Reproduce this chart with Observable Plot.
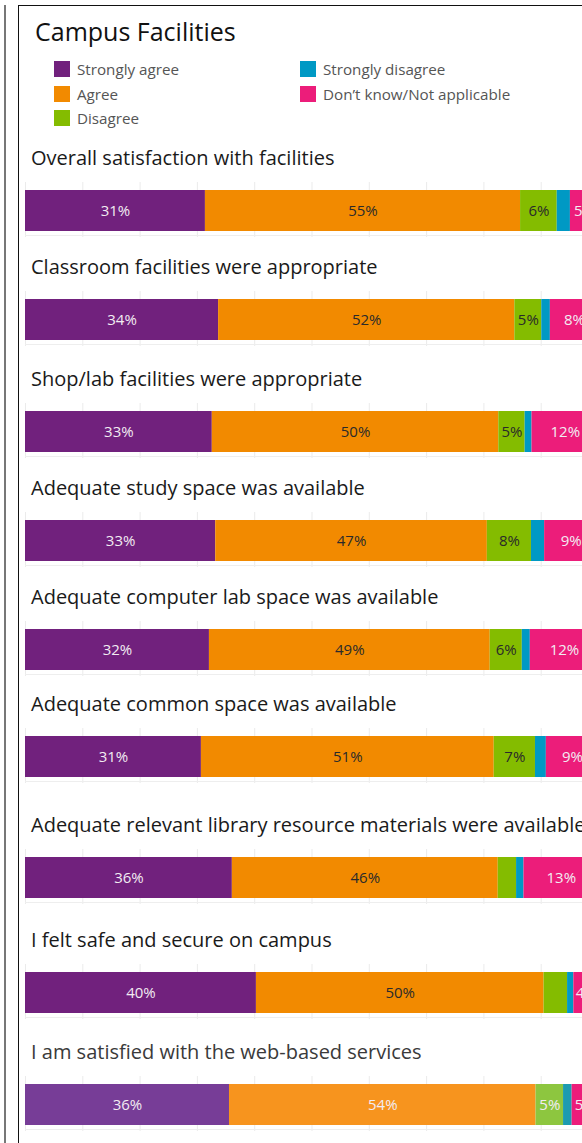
<!DOCTYPE html>
<html><head><meta charset="utf-8">
<script src="https://cdn.jsdelivr.net/npm/d3@7"></script>
<script src="https://cdn.jsdelivr.net/npm/@observablehq/plot@0.6"></script>
<style>
html,body{margin:0;padding:0;background:#fff;width:582px;height:1143px;overflow:hidden;}
body{position:relative;font-family:"Open Sans","Noto Sans",sans-serif;}
#outer{position:absolute;left:4px;top:5px;height:1200px;border-left:2px solid #777;}
#panel{position:absolute;left:18px;top:5px;width:700px;height:1200px;border-top:1.5px solid #111;border-left:1.5px solid #111;}
#title{position:absolute;left:35px;top:15px;font-size:25px;line-height:32px;color:#111;white-space:nowrap;}
#legend{position:absolute;left:54px;top:57px;display:grid;grid-template-rows:repeat(3,24.5px);grid-auto-flow:column;grid-template-columns:246px 260px;}
.item{display:flex;align-items:center;font-size:15.2px;color:#555;white-space:nowrap;}
.sw{width:16px;height:16px;margin-right:7px;flex:none;}
.row{position:absolute;left:0;width:600px;}
.rtitle{margin-left:31px;height:24px;line-height:24px;font-size:20px;color:#1a1a1a;margin-bottom:12px;white-space:nowrap;}
.plotwrap{position:relative;}
.plotwrap svg{display:block;}
.baseline{position:absolute;left:25px;right:0;bottom:1px;height:1px;background:#eeeeee;}
</style></head>
<body>
<div id="outer"></div>
<div id="panel"></div>
<div id="title">Campus Facilities</div>
<div id="legend"></div>
<div id="rows"></div>
<script>
const categories = ["Strongly agree", "Agree", "Disagree", "Strongly disagree", "Don’t know/Not applicable"];
const questions = [
  "Overall satisfaction with facilities",
  "Classroom facilities were appropriate",
  "Shop/lab facilities were appropriate",
  "Adequate study space was available",
  "Adequate computer lab space was available",
  "Adequate common space was available",
  "Adequate relevant library resource materials were available",
  "I felt safe and secure on campus",
  "I am satisfied with the web-based services"
];
const stronglyAgree    = [31.4, 33.7, 32.6, 33.2, 32.1, 30.7, 36.1, 40.3, 35.6];
const agree            = [55.0, 51.7, 50.0, 47.4, 49.0, 51.1, 46.4, 50.2, 53.5];
const disagree         = [6.4, 4.7, 4.6, 7.7, 5.6, 7.2, 3.2, 4.1, 4.8];
const stronglyDisagree = [2.3, 1.5, 1.2, 2.3, 1.4, 1.9, 1.3, 1.1, 1.5];
const dontKnow         = [4.9, 8.4, 11.6, 9.3, 11.9, 9.1, 13.0, 4.3, 4.6];
const gridTicks = [0, 10, 20, 30, 40, 50, 60, 70, 80, 90, 100];

const palette = ["#71217d", "#f28a00", "#84bc00", "#0099c4", "#ec1d7a"];
const highlightPalette = ["#773d97", "#f7941e", "#8dc63f", "#1d9bb0", "#ec1d7a"];
const highlightRow = 8;
const rowTops = [146, 255, 367, 476, 585, 692, 813, 928, 1040];

const series = [stronglyAgree, agree, disagree, stronglyDisagree, dontKnow];

// legend
const legend = document.getElementById("legend");
categories.forEach((c, j) => {
  const it = document.createElement("div");
  it.className = "item";
  it.innerHTML = `<div class="sw" style="background:${palette[j]}"></div><span>${c}</span>`;
  legend.appendChild(it);
});

const rowsEl = document.getElementById("rows");
questions.forEach((q, i) => {
  const hl = i === highlightRow;
  const data = categories.map((c, j) => ({q, cat: c, value: series[j][i]}));
  const show = d => Math.round(d.value) >= 5 || d.cat === categories[4];
  const lightCats = hl ? categories : [categories[0], categories[3], categories[4]];
  const lbl = d => Math.round(d.value) + "%";
  const chart = Plot.plot({
    width: 600,
    height: 55,
    marginLeft: 25,
    marginRight: 2,
    marginTop: 0,
    marginBottom: 0,
    style: {fontFamily: "'Open Sans', 'Noto Sans', sans-serif", background: "transparent"},
    x: {domain: [0, 100], axis: null},
    y: {domain: [q], axis: null, padding: 0},
    color: {domain: categories, range: hl ? highlightPalette : palette},
    marks: [
      Plot.ruleX(gridTicks, {stroke: "#ebebeb", strokeWidth: 1}),
      Plot.barX(data, Plot.stackX({x: "value", y: "q", fill: "cat", insetTop: 8, insetBottom: 6})),
      Plot.text(data, Plot.stackX({x: "value", y: "q", dy: 1,
        text: d => show(d) && lightCats.includes(d.cat) ? lbl(d) : "",
        fill: "#f2ecf2", fontSize: 15})),
      Plot.text(data, Plot.stackX({x: "value", y: "q", dy: 1,
        text: d => show(d) && !lightCats.includes(d.cat) ? lbl(d) : "",
        fill: "#2a2a2a", fontSize: 15}))
    ]
  });
  const row = document.createElement("div");
  row.className = "row";
  row.style.top = rowTops[i] + "px";
  const t = document.createElement("div");
  t.className = "rtitle";
  t.textContent = q;
  if (hl) t.style.color = "#3a3a3a";
  row.appendChild(t);
  const w = document.createElement("div");
  w.className = "plotwrap";
  w.appendChild(chart);
  const b = document.createElement("div");
  b.className = "baseline";
  w.appendChild(b);
  row.appendChild(w);
  rowsEl.appendChild(row);
});
</script>
</body></html>
